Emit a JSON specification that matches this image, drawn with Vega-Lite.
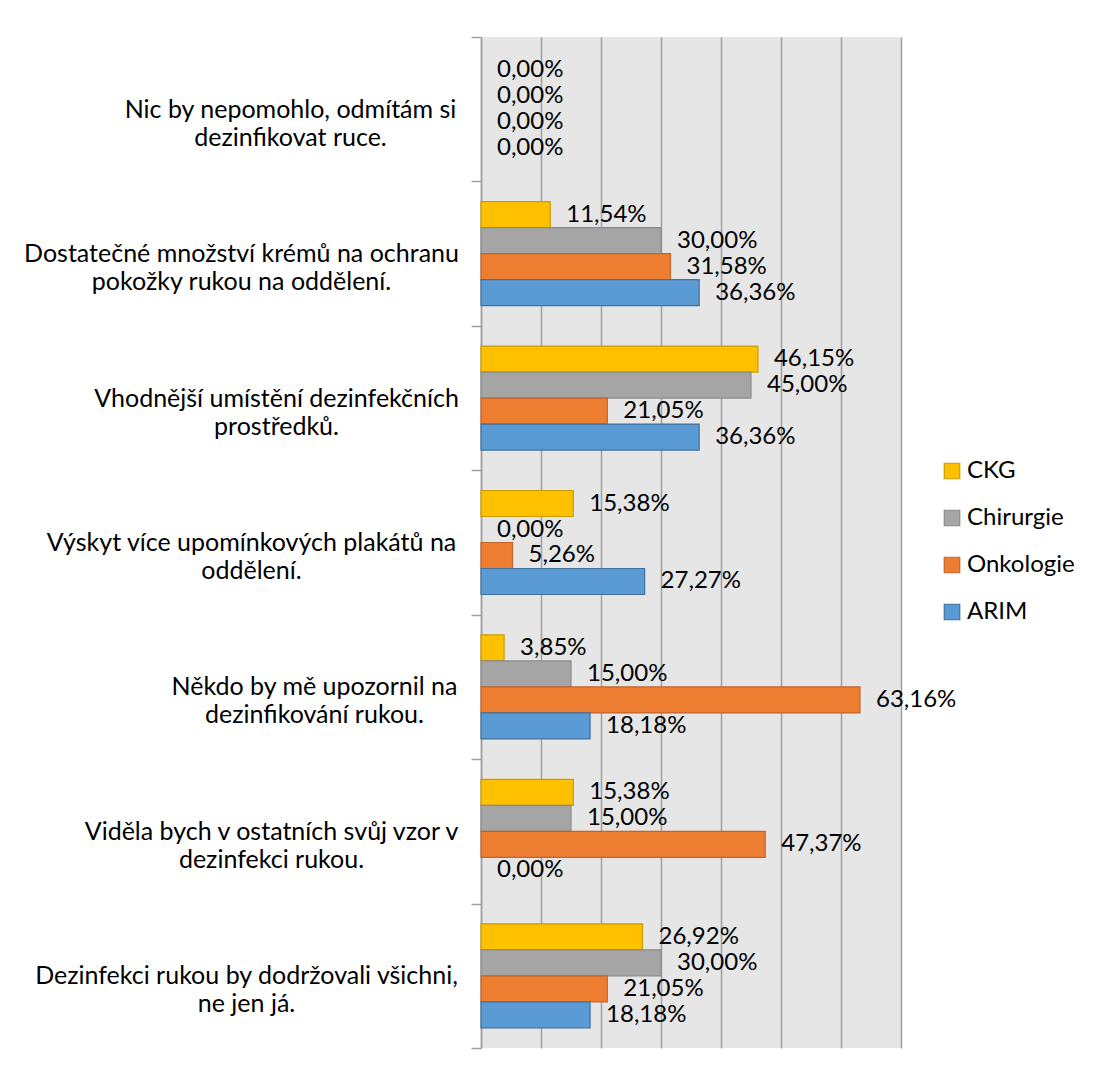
{
  "$schema": "https://vega.github.io/schema/vega-lite/v6.json",
  "autosize": {"type": "none"},
  "padding": {"left": 481, "top": 37, "right": 194, "bottom": 21},
  "width": 420,
  "height": 1011,
  "background": "#ffffff",
  "config": {
    "view": {"stroke": null, "fill": "#e6e6e6"},
    "font": "Lato"
  },
  "data": {
    "values": [
      {"otazka": "Nic by nepomohlo, odmítám si\ndezinfikovat ruce.", "oddeleni": "CKG", "podil": 0},
      {"otazka": "Nic by nepomohlo, odmítám si\ndezinfikovat ruce.", "oddeleni": "Chirurgie", "podil": 0},
      {"otazka": "Nic by nepomohlo, odmítám si\ndezinfikovat ruce.", "oddeleni": "Onkologie", "podil": 0},
      {"otazka": "Nic by nepomohlo, odmítám si\ndezinfikovat ruce.", "oddeleni": "ARIM", "podil": 0},
      {"otazka": "Dostatečné množství krémů na ochranu\npokožky rukou na oddělení.", "oddeleni": "CKG", "podil": 0.1154},
      {"otazka": "Dostatečné množství krémů na ochranu\npokožky rukou na oddělení.", "oddeleni": "Chirurgie", "podil": 0.30},
      {"otazka": "Dostatečné množství krémů na ochranu\npokožky rukou na oddělení.", "oddeleni": "Onkologie", "podil": 0.3158},
      {"otazka": "Dostatečné množství krémů na ochranu\npokožky rukou na oddělení.", "oddeleni": "ARIM", "podil": 0.3636},
      {"otazka": "Vhodnější umístění dezinfekčních\nprostředků.", "oddeleni": "CKG", "podil": 0.4615},
      {"otazka": "Vhodnější umístění dezinfekčních\nprostředků.", "oddeleni": "Chirurgie", "podil": 0.45},
      {"otazka": "Vhodnější umístění dezinfekčních\nprostředků.", "oddeleni": "Onkologie", "podil": 0.2105},
      {"otazka": "Vhodnější umístění dezinfekčních\nprostředků.", "oddeleni": "ARIM", "podil": 0.3636},
      {"otazka": "Výskyt více upomínkových plakátů na\noddělení.", "oddeleni": "CKG", "podil": 0.1538},
      {"otazka": "Výskyt více upomínkových plakátů na\noddělení.", "oddeleni": "Chirurgie", "podil": 0},
      {"otazka": "Výskyt více upomínkových plakátů na\noddělení.", "oddeleni": "Onkologie", "podil": 0.0526},
      {"otazka": "Výskyt více upomínkových plakátů na\noddělení.", "oddeleni": "ARIM", "podil": 0.2727},
      {"otazka": "Někdo by mě upozornil na\ndezinfikování rukou.", "oddeleni": "CKG", "podil": 0.0385},
      {"otazka": "Někdo by mě upozornil na\ndezinfikování rukou.", "oddeleni": "Chirurgie", "podil": 0.15},
      {"otazka": "Někdo by mě upozornil na\ndezinfikování rukou.", "oddeleni": "Onkologie", "podil": 0.6316},
      {"otazka": "Někdo by mě upozornil na\ndezinfikování rukou.", "oddeleni": "ARIM", "podil": 0.1818},
      {"otazka": "Viděla bych v ostatních svůj vzor v\ndezinfekci rukou.", "oddeleni": "CKG", "podil": 0.1538},
      {"otazka": "Viděla bych v ostatních svůj vzor v\ndezinfekci rukou.", "oddeleni": "Chirurgie", "podil": 0.15},
      {"otazka": "Viděla bych v ostatních svůj vzor v\ndezinfekci rukou.", "oddeleni": "Onkologie", "podil": 0.4737},
      {"otazka": "Viděla bych v ostatních svůj vzor v\ndezinfekci rukou.", "oddeleni": "ARIM", "podil": 0},
      {"otazka": "Dezinfekci rukou by dodržovali všichni,\nne jen já.", "oddeleni": "CKG", "podil": 0.2692},
      {"otazka": "Dezinfekci rukou by dodržovali všichni,\nne jen já.", "oddeleni": "Chirurgie", "podil": 0.30},
      {"otazka": "Dezinfekci rukou by dodržovali všichni,\nne jen já.", "oddeleni": "Onkologie", "podil": 0.2105},
      {"otazka": "Dezinfekci rukou by dodržovali všichni,\nne jen já.", "oddeleni": "ARIM", "podil": 0.1818}
    ]
  },
  "encoding": {
    "y": {
      "field": "otazka",
      "type": "nominal",
      "sort": null,
      "scale": {"paddingInner": 0, "paddingOuter": 0},
      "axis": {
        "title": null,
        "tickBand": "extent",
        "tickSize": 10,
        "tickColor": "#a0a0a0",
        "domainColor": "#a0a0a0",
        "domainWidth": 1.5,
        "tickWidth": 1.5,
        "labelExpr": "isString(datum.value) ? split(datum.value, '\\n') : ''",
        "labelAlign": "center",
        "labelBaseline": "middle",
        "labelFont": "Lato",
        "labelFontSize": 25,
        "labelLineHeight": 28,
        "labelColor": "#000000",
        "labelLimit": 0,
        "labelPadding": {
          "condition": [
            {"test": "indexof('' + datum.value, 'Nic by') == 0", "value": 181},
            {"test": "indexof('' + datum.value, 'Dostate') == 0", "value": 230},
            {"test": "indexof('' + datum.value, 'Vhodn') == 0", "value": 195},
            {"test": "indexof('' + datum.value, 'Výskyt') == 0", "value": 220},
            {"test": "indexof('' + datum.value, 'Někdo') == 0", "value": 157},
            {"test": "indexof('' + datum.value, 'Viděla') == 0", "value": 200}
          ],
          "value": 225
        }
      }
    },
    "yOffset": {
      "field": "oddeleni",
      "type": "nominal",
      "sort": ["CKG", "Chirurgie", "Onkologie", "ARIM"],
      "scale": {"paddingInner": 0, "paddingOuter": 0.778}
    },
    "x": {
      "field": "podil",
      "type": "quantitative",
      "scale": {"domain": [0, 0.7], "nice": false},
      "axis": {
        "title": null,
        "values": [0, 0.1, 0.2, 0.3, 0.4, 0.5, 0.6, 0.7],
        "labels": false,
        "ticks": false,
        "domain": false,
        "grid": true,
        "gridColor": "#a0a0a0",
        "gridWidth": 1.5
      }
    }
  },
  "layer": [
    {
      "mark": {"type": "bar", "strokeWidth": 1.2},
      "encoding": {
        "fill": {
          "field": "oddeleni",
          "type": "nominal",
          "scale": {"domain": ["CKG", "Chirurgie", "Onkologie", "ARIM"], "range": ["#ffc000", "#a5a5a5", "#ed7d31", "#5b9bd5"]},
          "legend": {
            "title": null,
            "orient": "none",
            "legendX": 459,
            "legendY": 422,
            "symbolType": "square",
            "symbolSize": 240,
            "symbolStrokeWidth": 1.2,
            "labelFont": "Lato",
            "labelFontSize": 24,
            "labelColor": "#000000",
            "labelOffset": 3,
            "rowPadding": 23
          }
        },
        "stroke": {
          "field": "oddeleni",
          "type": "nominal",
          "scale": {"domain": ["CKG", "Chirurgie", "Onkologie", "ARIM"], "range": ["#c99a06", "#8a8a8a", "#c0652a", "#41719c"]},
          "legend": null
        },
        "strokeOpacity": {
          "condition": {"test": "datum.podil == 0", "value": 0},
          "value": 1
        }
      }
    },
    {
      "mark": {
        "type": "text",
        "align": "left",
        "baseline": "middle",
        "dx": 16,
        "font": "Lato",
        "fontSize": 24,
        "color": "#000000",
        "text": {"expr": "replace(format(datum.podil, '.2%'), '.', ',')"}
      }
    }
  ]
}
